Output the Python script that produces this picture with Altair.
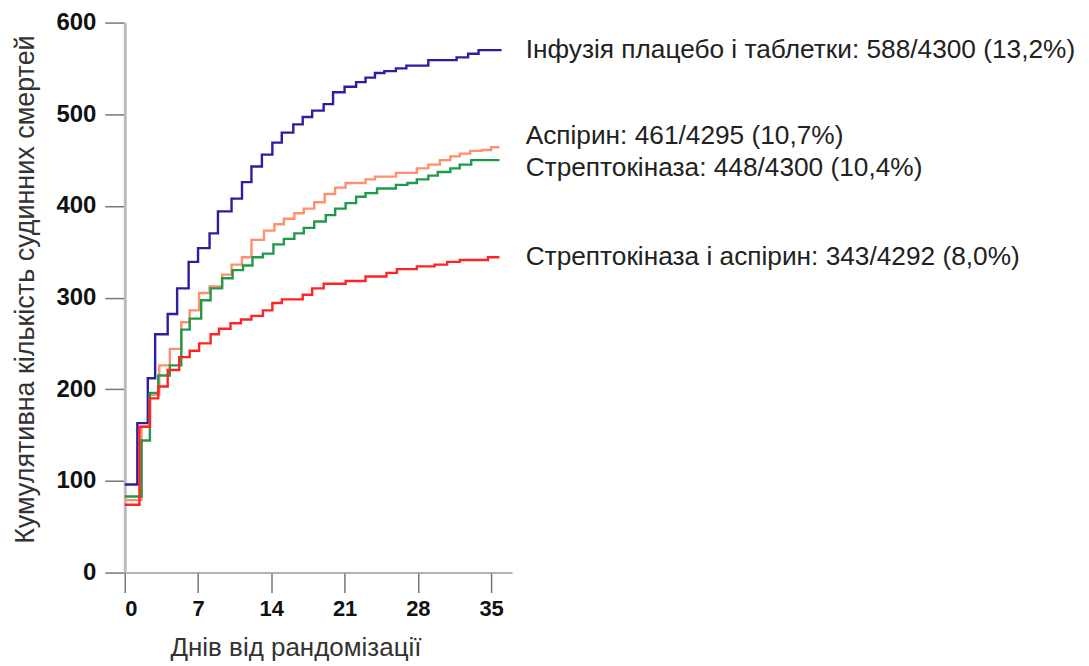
import altair as alt
import pandas as pd

# ---- data ----
placebo_days = [0, 1.2, 2.2, 2.9, 4.1, 5.0, 6.1, 7.0, 8.1, 8.9, 10.2, 11.2, 12.1, 13.1, 14.1, 15.0, 16.1,
                17.0, 17.9, 19.0, 19.9, 21.0, 22.1, 23.0, 23.9, 24.8, 25.9, 26.9, 29.0, 31.7, 32.8, 33.8, 36.0]
placebo_vals = [96, 163, 212, 260, 282, 310, 339, 354, 370, 394, 408, 426, 443, 456, 469, 480, 489,
                497, 504, 511, 524, 530, 535, 540, 545, 547, 550, 553, 559, 562, 566, 570, 570]

aspirin_days = [0, 1.6, 2.4, 3.3, 4.3, 5.4, 6.2, 7.1, 8.1, 9.3, 10.2, 11.2, 12.1, 13.3, 14.3, 15.2, 16.2,
                17.1, 18.1, 19.1, 20.1, 21.1, 23.0, 23.9, 25.9, 27.9, 29.0, 30.1, 31.1, 32.0, 33.0, 34.1, 35.0, 35.8]
aspirin_vals = [79, 159, 194, 226, 244, 273, 286, 305, 312, 325, 336, 344, 363, 373, 380, 386, 392,
                397, 404, 413, 420, 425, 429, 432, 436, 441, 445, 450, 454, 457, 460, 461, 464, 464]

strepto_days = [0, 1.6, 2.4, 3.2, 4.3, 5.4, 6.2, 7.3, 8.2, 9.3, 10.3, 11.3, 12.2, 13.2, 14.2, 15.2, 16.2,
                17.1, 18.1, 19.2, 20.1, 21.1, 22.1, 23.0, 24.1, 25.9, 27.0, 27.9, 29.0, 29.9, 31.1, 32.0, 33.1, 35.8]
strepto_vals = [83, 144, 196, 215, 226, 265, 277, 297, 310, 321, 330, 335, 344, 348, 358, 364, 370,
                376, 383, 390, 397, 403, 410, 414, 419, 423, 425, 429, 433, 437, 441, 445, 450, 450]

both_days = [0, 1.4, 2.4, 3.2, 4.1, 5.2, 6.2, 7.1, 8.2, 9.0, 10.1, 11.1, 12.1, 13.2, 14.1, 15.0, 17.0,
             17.9, 19.0, 21.1, 23.0, 25.0, 26.0, 27.9, 29.6, 30.8, 32.0, 34.7, 35.8]
both_vals = [74, 159, 190, 203, 221, 235, 242, 250, 260, 266, 272, 276, 280, 286, 294, 298, 303,
             310, 315, 318, 323, 327, 331, 334, 336, 339, 341, 344, 344]

series_names = ["placebo", "aspirin", "strepto", "both"]
series_colors = ["#2b1fa0", "#ff8f6e", "#1e9a4a", "#ff2424"]

label_texts = [
    "Інфузія плацебо і таблетки: 588/4300 (13,2%)",
    "Аспірин: 461/4295 (10,7%)",
    "Стрептокіназа: 448/4300 (10,4%)",
    "Стрептокіназа і аспірин: 343/4292 (8,0%)",
]
label_x = [38.3, 38.3, 38.3, 38.3]
label_y = [570, 476, 441, 344]

x_ticks = [0, 7, 14, 21, 28, 35]
y_ticks = [0, 100, 200, 300, 400, 500, 600]

FONT = "Liberation Sans"

# ---- build ----
series_data = [
    (placebo_days, placebo_vals),
    (aspirin_days, aspirin_vals),
    (strepto_days, strepto_vals),
    (both_days, both_vals),
]

x_scale = alt.Scale(domain=[0, 37], nice=False, zero=False)
y_scale = alt.Scale(domain=[0, 600], nice=False)

x_axis = alt.Axis(
    values=x_ticks, title="Днів від рандомізації", grid=False,
    tickSize=20, tickColor="#777", tickWidth=1.5,
    domainColor="#999", domainWidth=1.5,
    labelFont=FONT, labelFontSize=22, labelFontWeight="bold", labelColor="#111",
    labelPadding=6,
    titleFont=FONT, titleFontSize=26, titleFontWeight="normal", titleColor="#333",
    titleX=171, titleY=75, titleBaseline="middle",
)
y_axis = alt.Axis(
    values=y_ticks, title="Кумулятивна кількість судинних смертей", grid=False,
    tickSize=20, tickColor="#777", tickWidth=1.5,
    domainColor="#bbb", domainWidth=3,
    labelFont=FONT, labelFontSize=24, labelFontWeight="bold", labelColor="#111",
    labelPadding=9,
    titleFont=FONT, titleFontSize=27, titleFontWeight="normal", titleColor="#333",
    titleX=-99, titleY=267, titleBaseline="middle", titleAngle=-90,
)

layers = []
for i, (name, (days, vals), color) in enumerate(zip(series_names, series_data, series_colors)):
    df = pd.DataFrame({"day": days, "value": vals, "series": name})
    if i == 0:
        enc_x = alt.X("day:Q", scale=x_scale, axis=x_axis)
        enc_y = alt.Y("value:Q", scale=y_scale, axis=y_axis)
    else:
        enc_x = alt.X("day:Q", scale=x_scale)
        enc_y = alt.Y("value:Q", scale=y_scale)
    layers.append(
        alt.Chart(df).mark_line(interpolate="step-after", color=color, strokeWidth=2.4)
        .encode(x=enc_x, y=enc_y)
    )

labels_df = pd.DataFrame({"day": label_x, "value": label_y, "text": label_texts})
labels = alt.Chart(labels_df).mark_text(
    align="left", baseline="middle", font=FONT, fontSize=26.3, color="#222"
).encode(
    x=alt.X("day:Q", scale=x_scale),
    y=alt.Y("value:Q", scale=y_scale),
    text="text:N",
)

chart = alt.layer(*layers, labels).properties(
    width=388, height=551,
    background="white",
    autosize=alt.AutoSizeParams(type="none"),
    padding={"left": 117, "top": 14, "right": 570, "bottom": 91},
).configure_view(stroke=None)

chart.save("out.html", embed_options={"renderer": "svg", "actions": False})
